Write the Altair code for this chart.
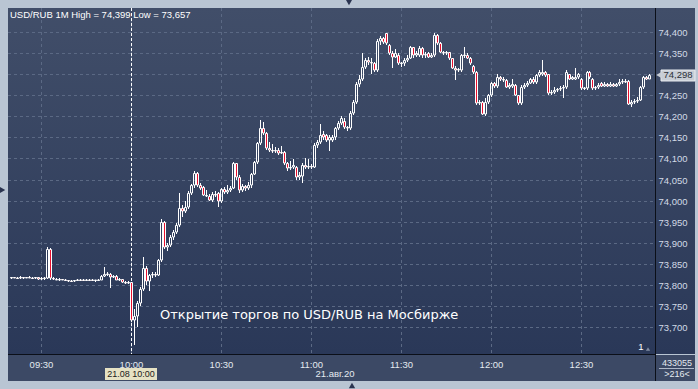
import altair as alt
import pandas as pd

# ---- 1-minute candles USD/RUB, 21.08.2020 ----
first_bar = "09:20"
open_ = [
    73.816, 73.817, 73.816, 73.815, 73.817, 73.816, 73.818, 73.816, 73.815, 73.817,
    73.814, 73.815, 73.816, 73.885, 73.815, 73.813, 73.812, 73.813, 73.811, 73.810,
    73.809, 73.808, 73.811, 73.812, 73.811, 73.810, 73.812, 73.811, 73.810, 73.811,
    73.812, 73.820, 73.825, 73.826, 73.818, 73.820, 73.812, 73.813, 73.806, 73.804,
    73.806, 73.717, 73.725, 73.757, 73.790, 73.840, 73.808, 73.822, 73.826, 73.822,
    73.859, 73.949, 73.890, 73.895, 73.914, 73.925, 73.942, 73.982, 73.975, 73.985,
    74.018, 74.037, 74.066, 74.037, 74.032, 74.013, 74.010, 74.001, 74.015, 74.018,
    74.000, 74.027, 74.020, 74.025, 74.030, 74.089, 74.056, 74.025, 74.035, 74.030,
    74.037, 74.063, 74.092, 74.137, 74.172, 74.160, 74.125, 74.120, 74.118, 74.120, 74.113,
    74.115, 74.089, 74.077, 74.080, 74.080, 74.056, 74.058, 74.084, 74.080, 74.082,
    74.080, 74.132, 74.140, 74.158, 74.155, 74.145, 74.145, 74.150, 74.172, 74.184,
    74.190, 74.175, 74.172, 74.208, 74.234, 74.277, 74.290, 74.317, 74.333, 74.330,
    74.328, 74.310, 74.380, 74.386, 74.398, 74.369, 74.350, 74.342, 74.345, 74.326,
    74.326, 74.335, 74.340, 74.364, 74.345, 74.345, 74.362, 74.345, 74.350, 74.342,
    74.345, 74.393, 74.374, 74.352, 74.350, 74.352, 74.338, 74.315, 74.310, 74.310,
    74.345, 74.347, 74.338, 74.320, 74.305, 74.231, 74.234, 74.205, 74.234, 74.250,
    74.279, 74.272, 74.293, 74.290, 74.286, 74.270, 74.272, 74.274, 74.250, 74.231,
    74.270, 74.275, 74.280, 74.290, 74.282, 74.298, 74.300, 74.305, 74.300, 74.255,
    74.258, 74.262, 74.265, 74.268, 74.270, 74.300, 74.290, 74.290, 74.293, 74.290,
    74.267, 74.267, 74.305, 74.290, 74.267, 74.270, 74.280, 74.273, 74.278, 74.272,
    74.278, 74.272, 74.276, 74.282, 74.285, 74.284, 74.229, 74.235, 74.237, 74.240,
    74.270, 74.293, 74.290,
]
high = [
    73.818, 73.819, 73.818, 73.820, 73.818, 73.819, 73.820, 73.818, 73.819, 73.818,
    73.817, 73.818, 73.889, 73.887, 73.817, 73.815, 73.815, 73.814, 73.813, 73.812,
    73.811, 73.812, 73.813, 73.814, 73.813, 73.813, 73.814, 73.813, 73.812, 73.813,
    73.822, 73.842, 73.830, 73.828, 73.823, 73.822, 73.815, 73.814, 73.809, 73.808,
    73.807, 73.742, 73.762, 73.795, 73.866, 73.845, 73.826, 73.830, 73.829, 73.862,
    73.956, 73.952, 73.900, 73.918, 73.930, 73.946, 74.018, 73.990, 74.000, 74.022,
    74.040, 74.071, 74.068, 74.042, 74.035, 74.025, 74.015, 74.020, 74.022, 74.020,
    74.030, 74.032, 74.036, 74.034, 74.092, 74.090, 74.060, 74.040, 74.038, 74.045,
    74.066, 74.095, 74.140, 74.191, 74.186, 74.163, 74.140, 74.135, 74.128, 74.125, 74.130,
    74.118, 74.092, 74.095, 74.098, 74.082, 74.068, 74.090, 74.100, 74.098, 74.088,
    74.136, 74.145, 74.182, 74.165, 74.158, 74.155, 74.155, 74.176, 74.190, 74.200,
    74.196, 74.178, 74.212, 74.238, 74.282, 74.298, 74.350, 74.338, 74.342, 74.340,
    74.330, 74.384, 74.392, 74.390, 74.399, 74.372, 74.355, 74.360, 74.350, 74.330,
    74.338, 74.345, 74.368, 74.366, 74.355, 74.367, 74.364, 74.352, 74.353, 74.350,
    74.399, 74.395, 74.377, 74.356, 74.355, 74.354, 74.340, 74.320, 74.316, 74.348,
    74.364, 74.350, 74.342, 74.323, 74.308, 74.238, 74.236, 74.243, 74.253, 74.283,
    74.282, 74.300, 74.296, 74.294, 74.288, 74.280, 74.290, 74.276, 74.252, 74.274,
    74.280, 74.284, 74.292, 74.294, 74.300, 74.310, 74.334, 74.307, 74.302, 74.262,
    74.270, 74.268, 74.272, 74.274, 74.310, 74.302, 74.296, 74.315, 74.304, 74.292,
    74.270, 74.308, 74.307, 74.292, 74.272, 74.280, 74.282, 74.282, 74.280, 74.282,
    74.280, 74.280, 74.288, 74.290, 74.288, 74.286, 74.238, 74.242, 74.245, 74.273,
    74.296, 74.297, 74.300,
]
low = [
    73.814, 73.815, 73.813, 73.814, 73.814, 73.815, 73.815, 73.813, 73.814, 73.812,
    73.811, 73.812, 73.814, 73.812, 73.811, 73.810, 73.809, 73.810, 73.808, 73.807,
    73.806, 73.807, 73.809, 73.810, 73.808, 73.808, 73.809, 73.808, 73.807, 73.809,
    73.810, 73.818, 73.820, 73.793, 73.815, 73.810, 73.809, 73.804, 73.801, 73.802,
    73.710, 73.657, 73.700, 73.750, 73.785, 73.800, 73.784, 73.815, 73.818, 73.820,
    73.855, 73.885, 73.880, 73.890, 73.905, 73.920, 73.938, 73.962, 73.970, 73.980,
    74.012, 74.030, 74.032, 74.025, 74.010, 74.008, 73.998, 73.997, 74.008, 73.985,
    73.995, 74.015, 74.016, 74.020, 74.028, 74.050, 74.018, 74.020, 74.022, 74.026,
    74.030, 74.060, 74.088, 74.132, 74.155, 74.120, 74.115, 74.112, 74.112, 74.108, 74.110,
    74.085, 74.070, 74.072, 74.076, 74.048, 74.050, 74.042, 74.075, 74.075, 74.076,
    74.078, 74.125, 74.135, 74.145, 74.140, 74.118, 74.140, 74.145, 74.168, 74.180,
    74.170, 74.165, 74.168, 74.204, 74.230, 74.270, 74.285, 74.312, 74.322, 74.300,
    74.305, 74.305, 74.370, 74.372, 74.370, 74.345, 74.315, 74.338, 74.322, 74.318,
    74.320, 74.330, 74.336, 74.340, 74.342, 74.342, 74.340, 74.340, 74.338, 74.338,
    74.342, 74.370, 74.350, 74.347, 74.346, 74.335, 74.312, 74.286, 74.305, 74.306,
    74.340, 74.336, 74.322, 74.302, 74.228, 74.226, 74.203, 74.202, 74.230, 74.246,
    74.268, 74.268, 74.284, 74.282, 74.268, 74.265, 74.268, 74.248, 74.226, 74.228,
    74.266, 74.270, 74.276, 74.278, 74.278, 74.294, 74.296, 74.294, 74.252, 74.252,
    74.254, 74.258, 74.260, 74.243, 74.266, 74.286, 74.286, 74.286, 74.289, 74.264,
    74.262, 74.264, 74.290, 74.264, 74.263, 74.266, 74.270, 74.270, 74.269, 74.269,
    74.269, 74.270, 74.273, 74.278, 74.279, 74.226, 74.222, 74.230, 74.232, 74.237,
    74.266, 74.286, 74.288,
]
close = [
    73.817, 73.816, 73.815, 73.817, 73.816, 73.818, 73.816, 73.815, 73.817, 73.814,
    73.815, 73.816, 73.885, 73.815, 73.813, 73.812, 73.813, 73.811, 73.810, 73.809,
    73.808, 73.811, 73.812, 73.811, 73.810, 73.812, 73.811, 73.810, 73.811, 73.812,
    73.820, 73.825, 73.826, 73.818, 73.820, 73.812, 73.813, 73.806, 73.804, 73.806,
    73.717, 73.725, 73.757, 73.790, 73.840, 73.808, 73.822, 73.826, 73.822, 73.859,
    73.949, 73.890, 73.895, 73.914, 73.925, 73.942, 73.982, 73.975, 73.985, 74.018,
    74.037, 74.066, 74.037, 74.030, 74.013, 74.010, 74.001, 74.015, 74.012, 74.000,
    74.027, 74.020, 74.025, 74.030, 74.089, 74.056, 74.025, 74.035, 74.030, 74.037,
    74.063, 74.092, 74.137, 74.172, 74.160, 74.125, 74.120, 74.118, 74.120, 74.113, 74.115,
    74.089, 74.077, 74.080, 74.085, 74.056, 74.060, 74.084, 74.080, 74.082, 74.080,
    74.132, 74.140, 74.156, 74.150, 74.145, 74.150, 74.150, 74.172, 74.184, 74.196,
    74.175, 74.172, 74.208, 74.234, 74.277, 74.290, 74.317, 74.333, 74.330, 74.328,
    74.310, 74.380, 74.386, 74.376, 74.374, 74.350, 74.342, 74.350, 74.326, 74.326,
    74.335, 74.340, 74.364, 74.345, 74.350, 74.362, 74.345, 74.348, 74.342, 74.345,
    74.393, 74.374, 74.352, 74.350, 74.352, 74.338, 74.315, 74.310, 74.312, 74.345,
    74.347, 74.340, 74.326, 74.305, 74.231, 74.234, 74.205, 74.234, 74.250, 74.279,
    74.272, 74.293, 74.290, 74.286, 74.270, 74.275, 74.278, 74.250, 74.231, 74.270,
    74.275, 74.280, 74.290, 74.282, 74.298, 74.305, 74.305, 74.298, 74.255, 74.258,
    74.262, 74.265, 74.268, 74.270, 74.305, 74.290, 74.293, 74.294, 74.300, 74.267,
    74.268, 74.305, 74.293, 74.267, 74.270, 74.275, 74.273, 74.277, 74.272, 74.278,
    74.272, 74.276, 74.282, 74.285, 74.282, 74.229, 74.235, 74.237, 74.240, 74.270,
    74.293, 74.290, 74.298,
]

x_ticks = ["09:30", "10:00", "10:30", "11:00", "11:30", "12:00", "12:30"]
y_ticks = [73.70, 73.75, 73.80, 73.85, 73.90, 73.95, 74.00, 74.05,
           74.10, 74.15, 74.20, 74.25, 74.30, 74.35, 74.40]
cursor_time = "10:00"
last_price = 74.298
title_text = "USD/RUB 1M High = 74,399 Low = 73,657"
note_text = "Открытие торгов по USD/RUB на Мосбирже"
date_text = "21.авг.20"
cursor_text = "21.08 10:00"
volume_text = "433055"
bars_text = ">216<"

assert len(open_) == len(high) == len(low) == len(close)


def to_min(s):
    h, m = s.split(":")
    return int(h) * 60 + int(m)


t0 = to_min(first_bar)
df = pd.DataFrame({"t": [t0 + i for i in range(len(close))],
                   "open": open_, "high": high, "low": low, "close": close})
df["top"] = df[["open", "close"]].max(axis=1)
df["bot"] = df[["open", "close"]].min(axis=1)

# the last-price marker covers the tick label next to it
label_ticks = [v for v in y_ticks if abs(v - last_price) > 0.02]

# ---- layout / style ----
W, H = 647, 346
FONT = "Liberation Sans"
FS = 9.5
RED = "#E8102E"
GRID = "#5B6984"
one = pd.DataFrame({"k": [0]})

x_scale = alt.Scale(domain=[558.85, 774.87], nice=False, zero=False, round=True, padding=0)
y_scale = alt.Scale(domain=[73.6351, 74.4578], nice=False, zero=False, round=True, padding=0)

x_axis = alt.Axis(values=[to_min(s) for s in x_ticks], title=None, ticks=False, domain=False,
                  grid=False, labelFontSize=FS, labelFont=FONT, labelColor="#E4E9F0",
                  labelPadding=5, labelFlush=False, labelOverlap=False, zindex=1,
                  labelExpr="format(floor(datum.value/60),'02d') + ':' + format(datum.value % 60,'02d')")
y_axis = alt.Axis(orient="right", values=label_ticks, title=None, ticks=False, domain=False,
                  grid=False, labelFontSize=FS, labelFont=FONT, labelColor="#D2DAE6",
                  labelPadding=3, labelFlush=False, labelOverlap=False, zindex=1,
                  labelAlign="left", labelBaseline="middle",
                  labelExpr="replace(format(datum.value, '.3f'), '.', ',')")


def X(field):
    return alt.X(field, scale=x_scale, axis=x_axis)


def Y(field):
    return alt.Y(field, scale=y_scale, axis=y_axis)


grad = alt.LinearGradient(gradient="linear",
                          stops=[alt.GradientStop(color="#414E69", offset=0),
                                 alt.GradientStop(color="#2A3858", offset=1)],
                          x1=0, x2=0, y1=0, y2=1)

bg = alt.Chart(one).mark_rect(fill=grad).encode(
    x=alt.value(0), x2=alt.value(687), y=alt.value(0), y2=alt.value(H))
bottom_panel = alt.Chart(one).mark_rect(fill="#3C4965").encode(
    x=alt.value(0), x2=alt.value(687), y=alt.value(H + 1), y2=alt.value(373))

hgrid = alt.Chart(pd.DataFrame({"v": y_ticks})).mark_rule(
    color=GRID, strokeDash=[3, 3], strokeWidth=1, yOffset=0.5).encode(
    y=Y("v:Q"), x=alt.value(0), x2=alt.value(W))
vgrid = alt.Chart(pd.DataFrame({"t": [to_min(s) for s in x_ticks]})).mark_rule(
    color=GRID, strokeDash=[3, 3], strokeWidth=1, xOffset=0.5).encode(
    x=X("t:Q"), y=alt.value(0), y2=alt.value(H))
cursor = alt.Chart(pd.DataFrame({"t": [to_min(cursor_time)]})).mark_rule(
    color="white", strokeDash=[3, 2], strokeWidth=1, xOffset=0.5).encode(
    x=X("t:Q"), y=alt.value(0), y2=alt.value(H))

base = alt.Chart(df)
wick_up = base.mark_rule(color="white", strokeWidth=1, xOffset=0.5).encode(
    x=X("t:Q"), y=Y("high:Q"), y2="top:Q")
wick_dn = base.mark_rule(color="white", strokeWidth=1, xOffset=0.5).encode(
    x=X("t:Q"), y=Y("bot:Q"), y2="low:Q")
bodies = base.mark_bar(orient="vertical", size=2, stroke="white", strokeWidth=1,
                       xOffset=0.5, yOffset=0.5).encode(
    x=X("t:Q"), y=Y("top:Q"), y2="bot:Q",
    fill=alt.condition("datum.close < datum.open", alt.value(RED), alt.value("transparent")))

sep_v = alt.Chart(one).mark_rule(color="#0B0F18", strokeWidth=1).encode(
    x=alt.value(W + 0.5), y=alt.value(0), y2=alt.value(373))
sep_h = alt.Chart(one).mark_rule(color="#0B0F18", strokeWidth=1).encode(
    x=alt.value(0), x2=alt.value(W), y=alt.value(H + 0.5))

pl = alt.Chart(pd.DataFrame({"p": [last_price]})).transform_calculate(
    a="datum.p + 0.0135", b="datum.p - 0.0135",
    lbl="replace(format(datum.p, '.3f'), '.', ',')")
price_box = pl.mark_rect(fill="#C8CDD5", stroke="#E9ECF0", strokeWidth=1).encode(
    x=alt.value(653), x2=alt.value(687), y=Y("a:Q"), y2="b:Q")
price_notch = pl.mark_point(shape="triangle-left", filled=True, size=40,
                            color="#C8CDD5", opacity=1).encode(
    x=alt.value(651), y=Y("p:Q"))
price_txt = pl.mark_text(font=FONT, fontSize=FS, color="#2A2F38",
                         align="center", baseline="middle").encode(
    x=alt.value(670), y=Y("p:Q"), text="lbl:N")


def label(text, x, y, size=FS, color="#E4E9F0", align="left", font=FONT):
    return alt.Chart(one).mark_text(font=font, fontSize=size, color=color,
                                    align=align, baseline="middle").encode(
        x=alt.value(x), y=alt.value(y), text=alt.value(text))


title = label(title_text, 2, 7, size=9.5, color="#FFFFFF")
note = label(note_text, 152, 307, size=13, color="#FFFFFF", font="DejaVu Sans")
date_lbl = label(date_text, 327, 366, align="center")
cur_box = alt.Chart(one).mark_rect(fill="#E6E2C4").encode(
    x=alt.value(97), x2=alt.value(149), y=alt.value(360), y2=alt.value(372))
cur_lbl = label(cursor_text, 123, 366, size=9, color="#1A1A1A", align="center")
vol_lbl = label(volume_text, 669, 355, size=9, align="center")
vol_line = alt.Chart(one).mark_rule(color="#AEB8C8").encode(
    x=alt.value(651), x2=alt.value(686), y=alt.value(360.5))
bars_lbl = label(bars_text, 669, 366, size=9, align="center")
page_lbl = label("1", 633, 339, color="#FFFFFF", align="center")
page_tri = alt.Chart(one).mark_point(shape="triangle-up", filled=True, size=18,
                                     color="#7F8BA0", opacity=1).encode(
    x=alt.value(640), y=alt.value(341))

tri_top = alt.Chart(one).mark_point(shape="triangle-down", filled=True, size=40,
                                    color="#2A3450", opacity=1).encode(
    x=alt.value(341), y=alt.value(-5.5))
tri_bot = alt.Chart(one).mark_point(shape="triangle-up", filled=True, size=40,
                                    color="#2A3450", opacity=1).encode(
    x=alt.value(344), y=alt.value(377.5))
tri_left = alt.Chart(one).mark_point(shape="triangle-right", filled=True, size=40,
                                     color="#2A3450", opacity=1).encode(
    x=alt.value(-5.5), y=alt.value(182))

chart = alt.layer(
    bg, bottom_panel, hgrid, vgrid, cursor, wick_up, wick_dn, bodies,
    sep_v, sep_h, price_box, price_notch, price_txt,
    title, note, cur_box, cur_lbl, date_lbl, vol_lbl, vol_line, bars_lbl,
    page_lbl, page_tri, tri_top, tri_bot, tri_left,
).properties(
    width=W, height=H,
    padding={"left": 8, "top": 8, "right": 43, "bottom": 35},
    autosize=alt.AutoSizeParams(type="none"),
    background="#B9C5D3",
).configure_view(strokeWidth=0)

chart.save("out.html", embed_options={"renderer": "svg", "actions": False})
